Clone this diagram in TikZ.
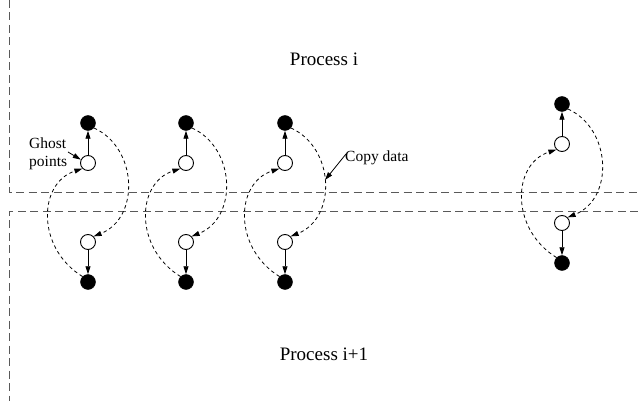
\documentclass[tikz,border=0pt]{standalone}
\usepackage{fontspec}
\setmainfont{Liberation Serif}
\usetikzlibrary{arrows.meta,calc}

\begin{document}
\begin{tikzpicture}[x=1pt,y=-1pt,
  full/.style={circle,fill=black,draw=black,inner sep=0pt,minimum size=15pt},
  hollow/.style={circle,fill=white,draw=black,line width=0.9pt,inner sep=0pt,minimum size=15pt},
  link/.style={-{Triangle[length=8pt,width=5pt]},line width=0.8pt},
  copy/.style={link,dash pattern=on 3.5pt off 3pt},
  border/.style={black!65,line width=1pt,dash pattern=on 8pt off 4.5pt},
  lbl/.style={font=\fontsize{15.5}{18}\selectfont,inner sep=0pt},
  title/.style={font=\fontsize{19}{22}\selectfont,inner sep=0pt}]

\useasboundingbox (0,0) rectangle (638,401);

% boundaries of the two process domains
\coordinate (ua) at (9,0);
\coordinate (ub) at (9,193);
\coordinate (uc) at (638,193);
\coordinate (la) at (638,212);
\coordinate (lb) at (9,212);
\coordinate (lc) at (9,401);
\draw[border] (ua) -- (ub) -- (uc);
\draw[border] (la) -- (lb) -- (lc);

% titles
\node[title] (pi) at (324,59) {Process i};
\node[title] (pj) at (324,354) {Process i+1};

% columns of points: real point, ghost point (top), ghost point, real point (bottom)
\foreach \c/\x/\y in {1/88/123, 2/186/123, 3/285/123, 4/562/104} {
  \node[full] (ft\c) at (\x,\y) {};
  \node[hollow] (gt\c) at (\x,\y+40) {};
  \node[hollow] (gb\c) at (\x,\y+119) {};
  \node[full] (fb\c) at (\x,\y+159) {};
  \draw[link] (gt\c) -- (ft\c);
  \draw[link] (gb\c) -- (fb\c);
  \draw[copy] (ft\c.-40) .. controls ($(ft\c)+(50,25)$) and ($(ft\c)+(52,95)$) .. (gb\c.45);
  \draw[copy] (fb\c.135) .. controls ($(ft\c)+(-52,125)$) and ($(ft\c)+(-50,60)$) .. (gt\c.-135);
}

% annotations
\node[lbl,align=left,anchor=west] (gp) at (29,154) {Ghost\\points};
\coordinate (gptail) at (68,152);
\draw[link] (gptail) -- (gt1.155);

\node[lbl,anchor=west] (cd) at (345,158) {Copy data};
\coordinate (cdtail) at (346,154);
\coordinate (cdtip) at (325,180);
\draw[link] (cdtail) -- (cdtip);
\end{tikzpicture}
\end{document}
